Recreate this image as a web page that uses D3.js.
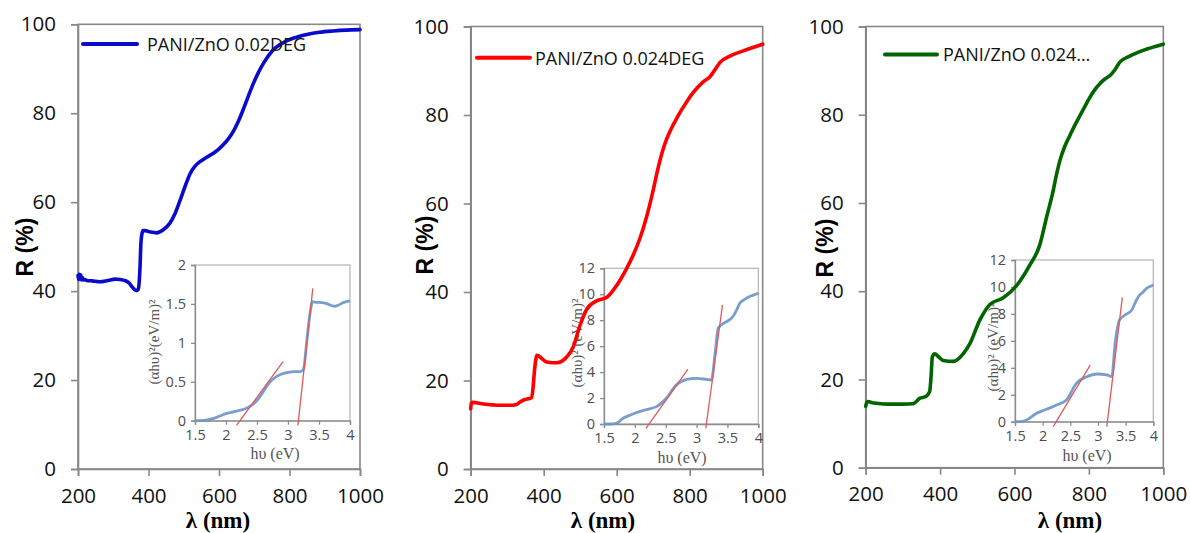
<!DOCTYPE html>
<html><head><meta charset="utf-8">
<script src="https://cdn.jsdelivr.net/npm/d3@7"></script>
<style>
html,body{margin:0;padding:0;background:#fff;}
svg{display:block;}
</style></head>
<body>
<svg id="c" width="1190" height="533"></svg>
<script>
// ---------- DATA ----------
const xTicksMain = [200, 400, 600, 800, 1000];
const yTicksMain = [0, 20, 40, 60, 80, 100];
const insetXTicks = [1.5, 2, 2.5, 3, 3.5, 4];
const insetYTicks1 = [0, 0.5, 1, 1.5, 2];
const insetYTicks23 = [0, 2, 4, 6, 8, 10, 12];

const legend1 = "PANI/ZnO 0.02DEG";
const legend2 = "PANI/ZnO 0.024DEG";
const legend3 = "PANI/ZnO 0.024…";

// main spectra: [wavelength nm, R %]
const lambda1 = [200,202,204,206,208,210,212,215,220,225,240,262,285,305,320,333,345,352,360,366,371,374,376,378,381,385,390,405,423,442,461,475,489,504,518,532,546,565,584,600,612,627,641,655,669,683,697,712,726,740,754,772,792,820,849,885,924,960,1000];
const refl1   = [43.5,42.6,43.8,42.8,43.6,42.5,43.1,42.5,42.6,42.4,42.3,42.1,42.4,42.7,42.6,42.4,41.8,41.1,40.4,40.1,40.4,42.5,45.5,50,52.7,53.6,53.6,53.3,53.1,53.8,55.3,57.4,60.3,63.6,66.4,68.1,69.1,70.1,71.0,72.0,72.9,74.3,76.0,78.2,80.9,83.8,86.6,89.2,91.2,92.9,94.3,95.4,96.3,97.1,97.7,98.2,98.5,98.7,98.8];

const lambda2 = [200,202,205,212,235,260,280,305,326,340,349,358,367,371,374,378,381,385,390,408,436,463,481,500,518,545,573,600,627,645,664,682,700,710,719,728,737,750,764,778,792,805,819,837,856,869,883,910,947,1000];
const refl2   = [13.6,14.9,15.1,15.0,14.7,14.5,14.4,14.4,14.6,15.4,15.7,15.9,16.1,18.5,21.5,24.5,25.7,25.6,25.3,24.2,24.0,25.3,27.6,32.6,36.1,38.0,38.8,41.5,45.3,48.3,52.2,57.0,63.0,66.8,69.9,72.5,74.6,77.0,79.2,81.2,83.0,84.6,86.0,87.5,88.7,90.2,91.9,93.3,94.5,96.0];

const lambda3 = [200,203,206,215,229,265,300,327,345,363,372,376,379,386,395,408,435,462,480,507,534,570,605,641,668,686,704,713,722,735,749,762,776,790,803,816,830,843,857,870,883,910,946,1000];
const refl3   = [13.9,14.8,15.0,14.8,14.6,14.4,14.4,14.5,15.7,16.2,17.3,21.0,25.1,25.8,25.2,24.3,24.1,25.8,28.1,33.5,37.0,38.5,41.2,45.9,50.5,56.7,62.8,66.5,69.6,72.8,75.3,77.6,79.8,82.0,84.0,85.7,87.1,88.1,88.9,90.2,91.9,93.3,94.6,96.0];

// insets: [photon energy eV, (αhν)^2]
const ev1  = [1.5,1.6,1.7,1.8,1.9,2.0,2.1,2.2,2.3,2.4,2.5,2.6,2.7,2.8,2.9,3.0,3.1,3.2,3.25,3.3,3.35,3.4,3.45,3.5,3.6,3.7,3.75,3.8,3.9,4.0];
const ah1  = [0,0,0.01,0.03,0.06,0.09,0.11,0.13,0.15,0.19,0.26,0.37,0.49,0.56,0.60,0.62,0.63,0.63,0.66,1.0,1.35,1.53,1.52,1.52,1.51,1.48,1.47,1.48,1.52,1.54];
const tan1a = [[2.17,-0.06],[2.92,0.76]];
const tan1b = [[3.16,-0.06],[3.40,1.70]];

const ev2  = [1.5,1.6,1.7,1.81,1.97,2.13,2.25,2.35,2.51,2.67,2.84,3.0,3.16,3.24,3.30,3.35,3.42,3.49,3.59,3.65,3.70,3.78,3.86,3.93,4.0];
const ah2  = [0,0,0.05,0.44,0.77,1.03,1.18,1.34,1.98,3.0,3.44,3.52,3.44,3.39,5.45,7.38,7.7,7.9,8.28,8.8,9.3,9.6,9.82,9.95,10.08];
const tan2a = [[2.18,-0.33],[2.86,4.22]];
const tan2b = [[3.15,-0.33],[3.42,9.18]];

const ev3  = [1.5,1.6,1.71,1.89,2.07,2.25,2.43,2.61,2.80,2.98,3.16,3.25,3.31,3.39,3.49,3.61,3.67,3.73,3.81,3.88,3.95,4.0];
const ah3  = [0,0,0.12,0.62,0.92,1.24,1.61,2.85,3.34,3.54,3.47,3.34,5.82,7.55,7.92,8.29,8.8,9.28,9.6,9.9,10.05,10.15];
const tan3a = [[2.19,-0.37],[2.86,4.2]];
const tan3b = [[3.16,-0.37],[3.44,9.23]];

// ---------- LAYOUT ----------
const panels = [
  {box:{l:78,r:360,t:24.3,b:469}, lam:lambda1, R:refl1, color:"#0a0acd", legend:legend1,
   leg:{x1:83,x2:137,y:44,tx:147},
   yLab:{x:25,y:247}, xLab:{x:218},
   inset:{box:{l:195,r:350,t:265,b:420.7}, ymax:2, yt:insetYTicks1, ev:ev1, ah:ah1, tans:[tan1a,tan1b],
          ylab:"(αhυ)\u00B2(eV/m)\u00B2", ylx:154, yly:342, xlx:275, xly:459}},
  {box:{l:470.7,r:762.7,t:26.5,b:469}, lam:lambda2, R:refl2, color:"#ff0000", legend:legend2,
   leg:{x1:477,x2:530,y:57.7,tx:535},
   yLab:{x:425,y:245}, xLab:{x:603},
   inset:{box:{l:604,r:758.3,t:268.3,b:424}, ymax:12, yt:insetYTicks23, ev:ev2, ah:ah2, tans:[tan2a,tan2b],
          ylab:"(αhυ)\u00B2 (eV/m)\u00B2", ylx:577, yly:343, xlx:682, xly:463}},
  {box:{l:865.7,r:1163.3,t:26.5,b:467.7}, lam:lambda3, R:refl3, color:"#006400", legend:legend3,
   leg:{x1:885,x2:937,y:54.4,tx:943},
   yLab:{x:825,y:248}, xLab:{x:1070},
   inset:{box:{l:1015,r:1153.3,t:260,b:421.7}, ymax:12, yt:insetYTicks23, ev:ev3, ah:ah3, tans:[tan3a,tan3b],
          ylab:"(αhυ)\u00B2 (eV/m)\u00B2", ylx:993, yly:347, xlx:1087, xly:461}}
];

const svg = d3.select("#c");
const sans = "'Open Sans', 'Noto Sans', sans-serif";
const serif = "'Liberation Serif', 'DejaVu Serif', serif";
const axisGrey = "#878787";

panels.forEach(p => {
  const g = svg.append("g");
  const x = d3.scaleLinear().domain([200,1000]).range([p.box.l, p.box.r]);
  const y = d3.scaleLinear().domain([0,100]).range([p.box.b, p.box.t]);

  // frame
  g.append("rect").attr("x",p.box.l).attr("y",p.box.t)
    .attr("width",p.box.r-p.box.l).attr("height",p.box.b-p.box.t)
    .attr("fill","none").attr("stroke",axisGrey).attr("stroke-width",1.6);

  const xa = g.append("g").attr("transform",`translate(0,${p.box.b})`)
    .call(d3.axisBottom(x).tickValues(xTicksMain).tickSize(7).tickPadding(12).tickFormat(d3.format("d")));
  const ya = g.append("g").attr("transform",`translate(${p.box.l},0)`)
    .call(d3.axisLeft(y).tickValues(yTicksMain).tickSize(7).tickPadding(15).tickFormat(d3.format("d")));
  [xa,ya].forEach(a=>{
    a.select(".domain").attr("stroke",axisGrey).attr("stroke-width",1.6);
    a.selectAll(".tick line").attr("stroke",axisGrey).attr("stroke-width",1.6);
    a.selectAll(".tick text").attr("font-family",sans).attr("font-size",20.5).attr("fill","#111");
  });

  // axis titles
  g.append("text").attr("transform",`translate(${p.yLab.x},${p.yLab.y}) rotate(-90)`)
    .attr("text-anchor","middle").attr("dominant-baseline","central")
    .attr("font-family","'Liberation Sans', Arial, sans-serif").attr("font-weight","bold").attr("font-size",23)
    .text("R (%)");
  g.append("text").attr("x",p.xLab.x).attr("y",528).attr("text-anchor","middle")
    .attr("font-family",serif).attr("font-weight","bold").attr("font-size",23)
    .text("λ (nm)");

  // inset
  const ib = p.inset.box;
  const ig = g.append("g");
  const ix = d3.scaleLinear().domain([1.5,4]).range([ib.l, ib.r]);
  const iy = d3.scaleLinear().domain([0,p.inset.ymax]).range([ib.b, ib.t]);
  ig.append("rect").attr("x",ib.l).attr("y",ib.t).attr("width",ib.r-ib.l).attr("height",ib.b-ib.t)
    .attr("fill","none").attr("stroke","#b3b3b3").attr("stroke-width",1.2);
  const ixa = ig.append("g").attr("transform",`translate(0,${ib.b})`)
    .call(d3.axisBottom(ix).tickValues(insetXTicks).tickSize(4).tickPadding(5).tickFormat(d=>String(d)));
  const iya = ig.append("g").attr("transform",`translate(${ib.l},0)`)
    .call(d3.axisLeft(iy).tickValues(p.inset.yt).tickSize(4).tickPadding(5).tickFormat(d=>String(d)));
  [ixa,iya].forEach(a=>{
    a.select(".domain").attr("stroke","#8c8c8c").attr("stroke-width",1.3);
    a.selectAll(".tick line").attr("stroke","#8c8c8c").attr("stroke-width",1.3);
    a.selectAll(".tick text").attr("font-family",sans).attr("font-size",14.5).attr("fill","#4d4d4d");
  });
  ig.append("text").attr("transform",`translate(${p.inset.ylx},${p.inset.yly}) rotate(-90)`)
    .attr("text-anchor","middle").attr("dominant-baseline","central")
    .attr("font-family",serif).attr("font-size",15).attr("fill","#555").text(p.inset.ylab);
  ig.append("text").attr("x",p.inset.xlx).attr("y",p.inset.xly).attr("text-anchor","middle")
    .attr("font-family",serif).attr("font-size",16).attr("fill","#555").text("hυ (eV)");

  const iline = d3.line().x(d=>ix(d[0])).y(d=>iy(d[1])).curve(d3.curveMonotoneX);
  ig.append("path").datum(p.inset.ev.map((e,i)=>[e,p.inset.ah[i]]))
    .attr("d",iline).attr("fill","none").attr("stroke","#6a93c8").attr("stroke-width",2.8).attr("opacity",0.9);
  const tl = d3.line().x(d=>ix(d[0])).y(d=>iy(d[1]));
  p.inset.tans.forEach(t=>{
    ig.append("path").datum(t).attr("d",tl).attr("fill","none").attr("stroke","#e05a5a").attr("stroke-width",1.3);
  });

  // main curve
  const line = d3.line().x(d=>x(d[0])).y(d=>y(d[1])).curve(d3.curveMonotoneX);
  g.append("path").datum(p.lam.map((l,i)=>[l,p.R[i]]))
    .attr("d",line).attr("fill","none").attr("stroke",p.color).attr("stroke-width",3.6)
    .attr("stroke-linejoin","round").attr("stroke-linecap","round");

  // legend
  g.append("line").attr("x1",p.leg.x1).attr("x2",p.leg.x2).attr("y1",p.leg.y).attr("y2",p.leg.y)
    .attr("stroke",p.color).attr("stroke-width",4).attr("stroke-linecap","round");
  g.append("text").attr("x",p.leg.tx).attr("y",p.leg.y).attr("dominant-baseline","central")
    .attr("font-family",sans).attr("font-size",18).attr("fill","#111").text(p.legend);
});
</script>
</body></html>
